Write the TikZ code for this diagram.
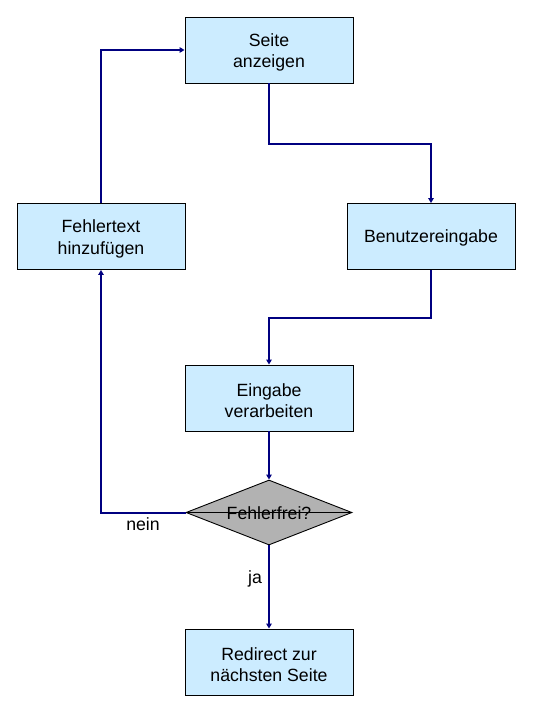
\documentclass[tikz,border=0pt]{standalone}
\usepackage{fontspec}
\setmainfont{Liberation Sans}
\usetikzlibrary{shapes.geometric,arrows.meta}
\definecolor{boxfill}{HTML}{CCECFF}
\definecolor{dfill}{HTML}{B2B2B2}
\definecolor{linecol}{HTML}{000080}
\begin{document}
\begin{tikzpicture}[x=1pt,y=-1pt,
  box/.style={draw=black,line width=0.9pt,fill=boxfill,minimum width=168pt,minimum height=66pt,inner sep=0pt},
  txt/.style={align=center,inner sep=0pt,font=\fontsize{17.7}{21.5}\selectfont},
  dec/.style={draw=black,line width=0.9pt,fill=dfill,diamond,aspect=2.55,minimum width=166pt,minimum height=65pt,inner sep=0pt},
  conn/.style={draw=linecol,line width=2pt},
  arr/.style={conn,-{Triangle[width=5.5pt,length=5pt]}},
  lbl/.style={font=\fontsize{17.7}{21.5}\selectfont,inner sep=0pt}]
\useasboundingbox (0,0) rectangle (540,720);
\node[box] (seite) at (269,50) {};
\node[txt] (seitet) at ([yshift=-2.5pt]seite.center) {Seite\\anzeigen};
\node[box] (benutzer) at (431,236.5) {};
\node[txt] (benutzert) at ([yshift=-1.5pt]benutzer.center) {Benutzereingabe};
\node[box] (fehler) at (101,236.5) {};
\node[txt] (fehlert) at ([yshift=-2.5pt]fehler.center) {Fehlertext\\hinzufügen};
\node[box] (eingabe) at (269,398) {};
\node[txt] (eingabet) at ([yshift=-2.5pt]eingabe.center) {Eingabe\\verarbeiten};
\node[dec] (frei) at (269,512.5) {};
\node[box] (redirect) at (269,662) {};
\node[txt] (redirectt) at ([yshift=-2.5pt]redirect.center) {Redirect zur\\nächsten Seite};
\draw[black,line width=0.9pt] (frei.west) -- (frei.east);
\node[lbl] (freit) at ([yshift=-0.5pt]frei.center) {Fehlerfrei?};
\draw[arr] (seite.south) |- (431,144) -- (benutzer.north);
\draw[arr] (benutzer.south) |- (269,318) -- (eingabe.north);
\draw[arr] (eingabe.south) -- (frei.north);
\draw[arr] (frei.west) -| (fehler.south);
\draw[arr] (fehler.north) |- (seite.west);
\draw[arr] (frei.south) -- (redirect.north);
\node[lbl] (nein) at (143,524) {nein};
\node[lbl] (ja) at (255,579) {ja};
\end{tikzpicture}
\end{document}
